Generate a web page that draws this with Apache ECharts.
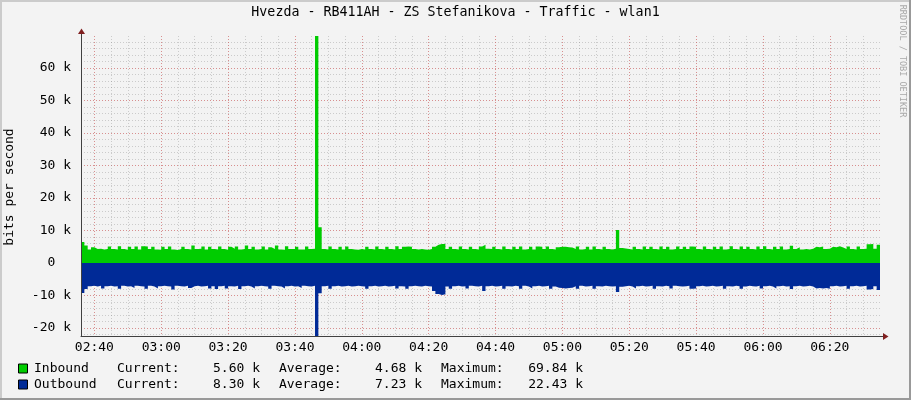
<!DOCTYPE html>
<html>
<head>
<meta charset="utf-8">
<script src="https://cdn.jsdelivr.net/npm/echarts@6/dist/echarts.min.js"></script>
<style>
html, body { margin: 0; padding: 0; background: #F3F3F3; }
#main { width: 911px; height: 400px; }
</style>
</head>
<body>
<div id="main"></div>
<script>
var myChart = echarts.init(document.getElementById('main'));

// time axis in minutes after midnight: 02:36 .. 06:35, one sample per minute
var startMinute = 156;
var endMinute = 395;

// bits per second, in k (1 sample per minute, last value closes the final step)
var inbound = [
    6.5, 5.4, 4.2, 4.9, 4.3, 4.4, 4.2, 4.3, 5.1, 4.3,
    4.2, 5.2, 4.3, 4.1, 5.0, 4.3, 5.1, 4.2, 5.2, 5.1,
    4.3, 5.0, 4.2, 4.1, 5.0, 4.3, 5.1, 4.2, 4.0, 4.3,
    5.0, 4.3, 4.2, 5.4, 4.3, 4.4, 5.1, 4.2, 5.0, 4.3,
    4.2, 5.1, 4.3, 4.1, 5.0, 4.4, 5.1, 4.2, 4.3, 5.4,
    4.3, 5.0, 4.2, 4.3, 5.1, 4.2, 4.9, 4.3, 5.4, 4.2,
    4.1, 5.2, 4.3, 4.3, 5.0, 4.2, 4.2, 5.1, 4.3, 4.4,
    69.84, 11.0, 4.3, 4.2, 5.1, 4.3, 4.2, 5.0, 4.2, 5.1,
    4.3, 4.2, 4.1, 4.3, 4.2, 5.0, 4.3, 4.2, 5.1, 4.3,
    4.2, 5.0, 4.3, 4.2, 5.2, 4.3, 5.0, 5.1, 5.0, 4.3,
    4.2, 4.3, 4.2, 4.1, 4.3, 5.0, 5.6, 5.9, 5.9, 4.3,
    5.0, 4.3, 4.2, 5.1, 4.3, 4.2, 5.0, 4.3, 4.2, 5.1,
    5.6, 4.4, 4.3, 5.0, 4.3, 4.2, 5.1, 4.3, 4.2, 5.0,
    4.3, 5.1, 4.2, 4.3, 5.0, 4.2, 5.1, 5.0, 4.3, 5.1,
    4.3, 4.2, 4.9, 5.0, 5.0, 4.9, 4.8, 4.3, 5.1, 4.2,
    4.3, 5.0, 4.2, 5.1, 4.3, 4.2, 5.0, 4.3, 4.2, 4.4,
    10.2, 4.6, 4.5, 4.3, 4.2, 5.0, 4.3, 4.2, 5.1, 4.3,
    5.0, 4.3, 4.2, 5.1, 4.3, 5.0, 4.2, 4.3, 5.1, 4.3,
    5.0, 4.3, 5.1, 5.0, 4.3, 4.2, 5.1, 4.3, 4.2, 5.0,
    4.3, 5.1, 4.2, 4.3, 5.2, 4.3, 4.2, 5.1, 4.3, 5.0,
    4.3, 4.2, 5.1, 4.3, 5.2, 4.3, 4.2, 5.0, 4.3, 5.1,
    4.2, 4.3, 5.3, 4.3, 4.9, 4.2, 4.3, 4.2, 4.4, 5.0,
    4.9, 5.1, 4.3, 4.4, 5.0, 4.9, 5.2, 4.8, 4.3, 5.1,
    4.3, 4.2, 5.1, 4.3, 4.4, 5.8, 5.9, 4.4, 5.6, 5.6
];
var outbound = [
    -9.2, -8.0, -7.1, -7.0, -7.2, -7.0, -7.8, -7.1, -7.0, -7.2,
    -7.1, -7.9, -7.0, -7.2, -7.1, -7.7, -7.0, -7.1, -7.2, -7.9,
    -7.0, -7.2, -7.8, -7.1, -7.0, -7.1, -7.2, -8.1, -7.0, -7.1,
    -7.2, -7.0, -7.7, -7.1, -7.0, -7.2, -7.1, -7.0, -7.8, -7.1,
    -8.0, -7.1, -7.0, -7.8, -7.1, -7.2, -7.0, -8.0, -7.1, -7.0,
    -7.2, -7.8, -7.1, -7.0, -7.1, -7.2, -7.9, -7.0, -7.1, -7.2,
    -7.8, -7.1, -7.0, -7.2, -7.1, -7.7, -7.0, -7.1, -7.2, -7.0,
    -22.43, -9.3, -7.1, -7.0, -7.9, -7.1, -7.0, -7.2, -7.1, -7.0,
    -7.2, -7.1, -7.0, -7.1, -7.2, -7.9, -7.1, -7.0, -7.2, -7.1,
    -7.0, -7.2, -7.1, -7.0, -7.8, -7.1, -7.2, -7.9, -7.1, -7.0,
    -7.1, -7.2, -7.0, -7.1, -7.2, -8.6, -9.5, -9.8, -9.6, -7.2,
    -7.9, -7.1, -7.0, -7.2, -7.1, -7.8, -7.0, -7.1, -7.2, -7.0,
    -8.6, -7.1, -7.0, -7.2, -7.1, -7.0, -7.9, -7.1, -7.2, -7.0,
    -7.1, -7.9, -7.0, -7.2, -7.8, -7.1, -7.0, -7.2, -7.1, -7.0,
    -7.9, -7.2, -7.6, -7.7, -7.8, -7.7, -7.6, -7.1, -7.9, -7.0,
    -7.2, -7.1, -7.0, -7.9, -7.1, -7.2, -7.0, -7.1, -7.2, -7.1,
    -8.9, -7.3, -7.1, -7.0, -7.2, -7.8, -7.1, -7.0, -7.2, -7.1,
    -7.0, -7.9, -7.1, -7.2, -7.0, -7.1, -7.8, -7.0, -7.1, -7.2,
    -7.1, -7.0, -7.9, -7.8, -7.1, -7.0, -7.2, -7.1, -7.0, -7.2,
    -7.1, -7.0, -7.9, -7.1, -7.2, -7.0, -7.1, -7.9, -7.2, -7.0,
    -7.1, -7.2, -7.0, -7.8, -7.1, -7.0, -7.2, -7.8, -7.1, -7.0,
    -7.2, -7.1, -8.0, -7.1, -7.0, -7.2, -7.1, -7.0, -7.2, -7.8,
    -7.7, -7.8, -7.7, -7.9, -7.1, -7.0, -7.2, -7.1, -7.0, -7.9,
    -7.1, -7.0, -7.2, -7.1, -7.0, -8.1, -8.0, -7.1, -8.3, -8.3
];

var yMin = -22.43;
var yMax = 69.84;

var legendRows = [
    { name: 'Inbound', color: '#00CC00', current: '5.60 k', average: '4.68 k', maximum: '69.84 k' },
    { name: 'Outbound', color: '#002A97', current: '8.30 k', average: '7.23 k', maximum: '22.43 k' }
];

var FONT = '"DejaVu Sans Mono", monospace';

function hhmm(m) {
    var h = Math.floor(m / 60), mm = Math.round(m % 60);
    return (h < 10 ? '0' : '') + h + ':' + (mm < 10 ? '0' : '') + mm;
}
function onStep(v, step) {
    return Math.abs(v / step - Math.round(v / step)) < 1e-6;
}
function toPoints(arr) {
    return arr.map(function (v, i) { return [startMinute + i, v]; });
}

var minorGrid = { color: 'rgba(130,130,130,0.35)', type: [1, 2], width: 1 };
var majorGrid = { color: 'rgba(230,70,70,0.45)', type: [1, 2], width: 1 };

// legend block, drawn as plain graphic text
var legendGraphic = [];
legendRows.forEach(function (row, i) {
    var cy = 368.5 + i * 16;
    legendGraphic.push(
        { type: 'rect', shape: { x: 18.5, y: cy - 4.5, width: 9, height: 9 },
          style: { fill: row.color, stroke: '#000', lineWidth: 1 } },
        { type: 'text', x: 34, y: cy, style: { text: row.name, font: '13px ' + FONT, fill: '#000', verticalAlign: 'middle' } },
        { type: 'text', x: 117, y: cy, style: { text: 'Current:', font: '13px ' + FONT, fill: '#000', verticalAlign: 'middle' } },
        { type: 'text', x: 260, y: cy, style: { text: row.current, font: '13px ' + FONT, fill: '#000', align: 'right', verticalAlign: 'middle' } },
        { type: 'text', x: 279, y: cy, style: { text: 'Average:', font: '13px ' + FONT, fill: '#000', verticalAlign: 'middle' } },
        { type: 'text', x: 422, y: cy, style: { text: row.average, font: '13px ' + FONT, fill: '#000', align: 'right', verticalAlign: 'middle' } },
        { type: 'text', x: 441, y: cy, style: { text: 'Maximum:', font: '13px ' + FONT, fill: '#000', verticalAlign: 'middle' } },
        { type: 'text', x: 583, y: cy, style: { text: row.maximum, font: '13px ' + FONT, fill: '#000', align: 'right', verticalAlign: 'middle' } }
    );
});

option = {
    backgroundColor: '#F3F3F3',
    animation: false,
    title: {
        text: 'Hvezda - RB411AH - ZS Stefanikova - Traffic - wlan1',
        left: 'center',
        top: 6,
        padding: 0,
        textStyle: { fontFamily: FONT, fontSize: 13.3, fontWeight: 'normal', color: '#000' }
    },
    grid: { left: 81, right: 31, top: 36, bottom: 64 },
    xAxis: [{
        // minor 5 min grid
        type: 'value', position: 'top', min: startMinute, max: endMinute,
        splitNumber: 48, minInterval: 5, maxInterval: 5, z: 3,
        axisLine: { show: false }, axisTick: { show: false }, axisLabel: { show: false },
        splitLine: { show: true, showMinLine: false, showMaxLine: false, lineStyle: minorGrid }
    }, {
        // major 20 min grid + labels
        type: 'value', position: 'bottom', min: startMinute, max: endMinute,
        splitNumber: 12, minInterval: 20, maxInterval: 20, z: 3,
        axisLine: { show: true, onZero: false, lineStyle: { color: '#404040', width: 1 } },
        axisTick: { show: false },
        axisLabel: {
            margin: 5, color: '#000', fontFamily: FONT, fontSize: 13,
            formatter: function (v) { return onStep(v, 20) ? hhmm(v) : ''; }
        },
        splitLine: { show: true, showMinLine: false, showMaxLine: false, lineStyle: majorGrid }
    }],
    yAxis: [{
        type: 'value', position: 'right', min: yMin, max: yMax,
        splitNumber: 46, minInterval: 2, maxInterval: 2, z: 3,
        axisLine: { show: false }, axisTick: { show: false }, axisLabel: { show: false },
        splitLine: { show: true, showMinLine: false, showMaxLine: false, lineStyle: minorGrid }
    }, {
        type: 'value', position: 'left', min: yMin, max: yMax,
        splitNumber: 9, minInterval: 10, maxInterval: 10, z: 3,
        axisLine: { show: true, onZero: false, lineStyle: { color: '#404040', width: 1 } },
        axisTick: { show: false },
        axisLabel: {
            margin: 10, color: '#000', fontFamily: FONT, fontSize: 13,
            formatter: function (v) {
                if (!onStep(v, 10)) return '';
                return Math.round(v) === 0 ? '0  ' : Math.round(v) + ' k';
            }
        },
        splitLine: { show: true, showMinLine: false, showMaxLine: false, lineStyle: majorGrid }
    }],
    series: [{
        name: 'Inbound',
        type: 'line',
        xAxisIndex: 1, yAxisIndex: 1,
        step: 'end',
        data: toPoints(inbound),
        showSymbol: false,
        silent: true,
        lineStyle: { width: 0 },
        itemStyle: { color: '#00CC00' },
        areaStyle: { color: '#00CC00', opacity: 1 }
    }, {
        name: 'Outbound',
        type: 'line',
        xAxisIndex: 1, yAxisIndex: 1,
        step: 'end',
        data: toPoints(outbound),
        showSymbol: false,
        silent: true,
        lineStyle: { width: 0 },
        itemStyle: { color: '#002A97' },
        areaStyle: { color: '#002A97', opacity: 1 }
    }],
    graphic: [
        // frame
        { type: 'line', shape: { x1: 0, y1: 1, x2: 911, y2: 1 }, style: { stroke: '#CBCBCB', lineWidth: 2 } },
        { type: 'line', shape: { x1: 1, y1: 0, x2: 1, y2: 400 }, style: { stroke: '#CBCBCB', lineWidth: 2 } },
        { type: 'line', shape: { x1: 910, y1: 0, x2: 910, y2: 400 }, style: { stroke: '#999999', lineWidth: 2 } },
        { type: 'line', shape: { x1: 0, y1: 399, x2: 911, y2: 399 }, style: { stroke: '#999999', lineWidth: 2 } },
        // axis arrows
        { type: 'line', shape: { x1: 81.5, y1: 36, x2: 81.5, y2: 32 }, style: { stroke: '#404040', lineWidth: 1 } },
        { type: 'polygon', shape: { points: [[81.5, 28.5], [78, 34], [85, 34]] }, style: { fill: '#802020' } },
        { type: 'line', shape: { x1: 880, y1: 336.5, x2: 884, y2: 336.5 }, style: { stroke: '#404040', lineWidth: 1 } },
        { type: 'polygon', shape: { points: [[888.5, 336.5], [883, 333], [883, 340]] }, style: { fill: '#802020' } },
        // vertical axis name
        { type: 'text', x: 10, y: 187, rotation: Math.PI / 2,
          style: { text: 'bits per second', font: '13px ' + FONT, fill: '#000', align: 'center', verticalAlign: 'middle' } },
        // watermark
        { type: 'text', x: 902, y: 61, rotation: -Math.PI / 2,
          style: { text: 'RRDTOOL / TOBI OETIKER', font: '8.5px ' + FONT, fill: '#A8A8A8', align: 'center', verticalAlign: 'middle' } }
    ].concat(legendGraphic)
};

myChart.setOption(option);
</script>
</body>
</html>
